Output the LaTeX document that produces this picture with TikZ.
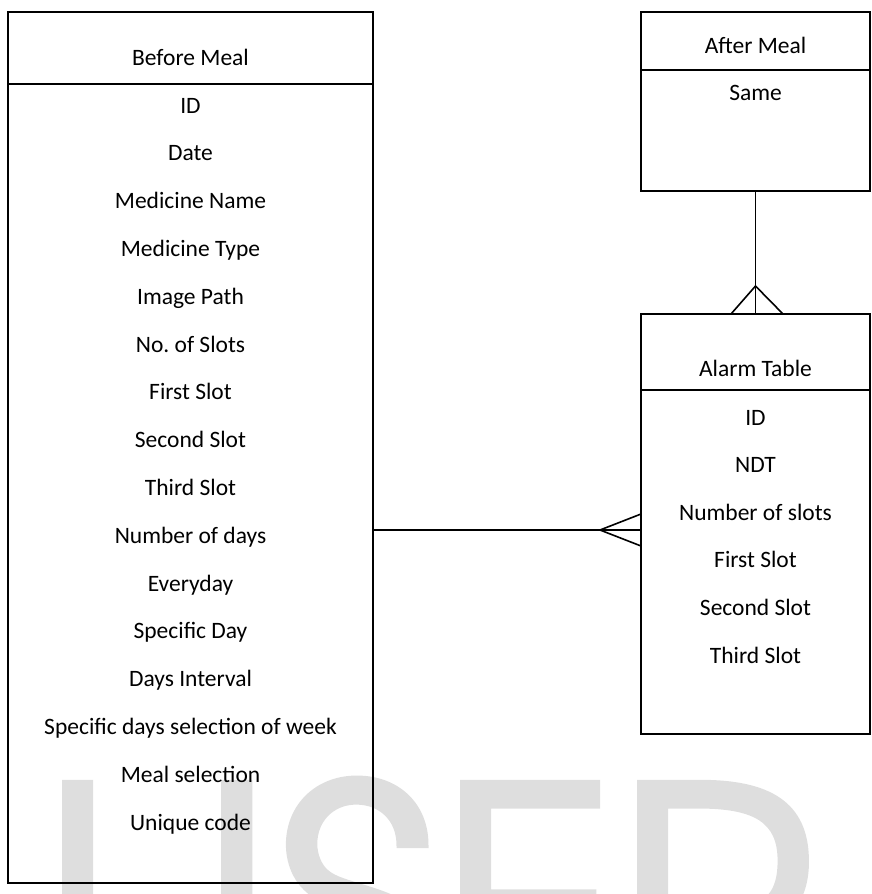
\documentclass[tikz,border=0pt]{standalone}
\usepackage{fontspec}
\setmainfont{Carlito}
\newfontfamily\wmfont[FakeBold=2]{texgyreadventor-regular.otf}
\usetikzlibrary{positioning}

\tikzset{
  entity/.style={draw, line width=0.8pt, inner sep=0pt},
  attr/.style={anchor=base, inner sep=0pt, font=\fontsize{11.75}{14}\selectfont},
  link/.style={line width=0.8pt},
}

\begin{document}
\begin{tikzpicture}[x=0.5pt,y=-0.5pt]
        \useasboundingbox (0,0) rectangle (872,894);

        % watermark
        \node[anchor=base west, inner sep=0pt, text=black!13,
              font=\wmfont\fontsize{165}{165}\selectfont] (wm) at (40,1027) {IJSER};

        % tables
        \node[entity, minimum width=182.5pt, minimum height=435.5pt] (before) at (190.5,447.5) {};
        \node[entity, minimum width=114.5pt, minimum height=89.5pt] (after) at (755.5,101.5) {};
        \node[entity, minimum width=114.5pt, minimum height=210pt] (alarm) at (755.5,524) {};

        \draw[link] (before.west |- 0,84) -- (before.east |- 0,84);
        \draw[link] (after.west |- 0,70) -- (after.east |- 0,70);
        \draw[link] (alarm.west |- 0,390) -- (alarm.east |- 0,390);

        \node[attr] (beforetitle) at (190.5,65) {Before Meal};
        \node[attr] (aftertitle) at (755.5,53) {After Meal};
        \node[attr] (alarmtitle) at (755.5,376) {Alarm Table};

        \foreach \name [count=\i] in {ID, Date, Medicine Name, Medicine Type, Image Path,
            No.\ of Slots, First Slot, Second Slot, Third Slot, Number of days, Everyday,
            Specific Day, Days Interval, Specific days selection of week, Meal selection,
            Unique code}
            \node[attr] (b\i) at (190.5,{113+47.8*(\i-1)}) {\name};

        \node[attr] (a1) at (755.5,100) {Same};

        \foreach \name [count=\i] in {ID, NDT, Number of slots, First Slot, Second Slot, Third Slot}
            \node[attr] (t\i) at (755.5,{425+47.6*(\i-1)}) {\name};

        % relations
        \coordinate (crowA) at (600,530);
        \coordinate (footA1) at (641,514);
        \coordinate (footA2) at (641,546);
        \coordinate (crowB) at (755.5,286);
        \coordinate (footB1) at (731,314);
        \coordinate (footB2) at (783,314);

        \draw[link] (before.east |- crowA) -- (alarm.west |- crowA);
        \draw[link] (footA1) -- (crowA) -- (footA2);
        \draw[link] (after.south) -- (alarm.north);
        \draw[link] (footB1) -- (crowB) -- (footB2);
\end{tikzpicture}
\end{document}
